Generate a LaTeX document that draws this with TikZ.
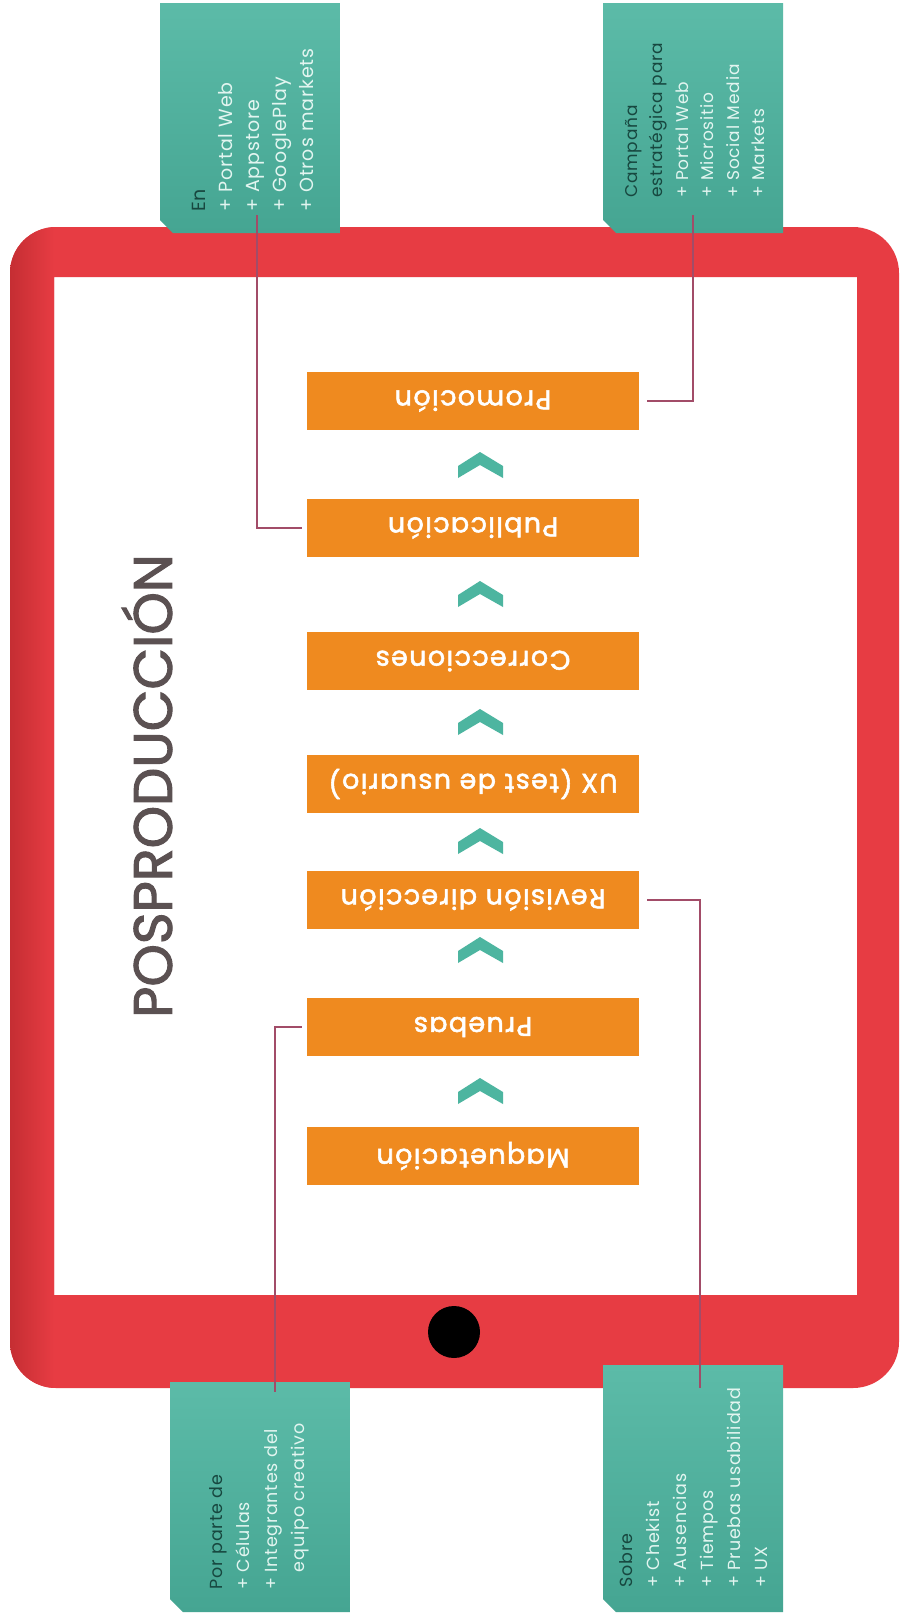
\documentclass[tikz,border=0pt]{standalone}
\usepackage{fontspec}
\setmainfont{Poppins}
\newfontfamily\stepfam[FakeBold=2,LetterSpace=5]{Poppins}
\newfontfamily\titlefam[FakeBold=2]{Poppins}
\newfontfamily\notefam[LetterSpace=5]{Poppins}
\definecolor{framered}{HTML}{E73C43}
\definecolor{framedark}{HTML}{C52E33}
\definecolor{tealbox}{HTML}{5CBBA8}
\definecolor{tealshade}{HTML}{45A592}
\definecolor{tealdark}{HTML}{17473F}
\definecolor{teallight}{HTML}{E2F5F0}
\definecolor{chev}{HTML}{4DB5A0}
\definecolor{orng}{HTML}{EF8A1F}
\definecolor{conncol}{HTML}{A24C68}
\definecolor{titlecol}{HTML}{5B5152}
\begin{document}
\begin{tikzpicture}[x=1pt,y=1pt,
  stepbox/.style={fill=orng, minimum width=332pt, minimum height=58pt, inner sep=0pt,
    text=white, font=\stepfam\fontsize{27}{30}\selectfont},
  notebox/.style={top color=tealbox, bottom color=tealshade},
  notebot/.style={top color=tealbox, bottom color=tealshade},
  notetext/.style={rotate=90, anchor=north west, inner sep=0pt, align=left,
    text=teallight, font=\notefam\fontsize{18}{27}\selectfont},
  chevron/.style={fill=chev},
  conn/.style={draw=conncol, line width=1.5pt}]
\useasboundingbox (0,0) rectangle (901,-1620);
\fill[white] (0,0) rectangle (901,-1620);
% tablet frame
\fill[framered, even odd rule, rounded corners=46pt] (10,-227) rectangle (899,-1388)
  [sharp corners] (54,-277) rectangle (857,-1295);
\begin{scope}
  \clip[rounded corners=46pt] (10,-227) rectangle (899,-1388);
  \shade[left color=framedark, right color=framered] (10,-227) rectangle (54,-1388);
\end{scope}
\fill[black] (454,-1332) circle (26);
% title
\node[rotate=90, text=titlecol, font=\titlefam\fontsize{54}{60}\selectfont] (title) at (147,-786) {POSPRODUCCIÓN};
% steps
\node[stepbox] (promo) at (473,-401) {\rotatebox{180}{Promoción}};
\node[stepbox] (publ) at (473,-528) {\rotatebox{180}{Publicación}};
\node[stepbox] (corr) at (473,-661) {\rotatebox{180}{Correcciones}};
\node[stepbox] (ux) at (473,-784) {\rotatebox{180}{UX (test de usuario)}};
\node[stepbox] (revi) at (473,-900) {\rotatebox{180}{Revisión dirección}};
\node[stepbox] (prue) at (473,-1027) {\rotatebox{180}{Pruebas}};
\node[stepbox] (maqu) at (473,-1156) {\rotatebox{180}{Maquetación}};
% chevrons
\foreach \cy in {465,594,722,841,950,1091}{
  \fill[chevron] (458,-\cy-1) -- (480,-\cy+13) -- (503,-\cy-1) -- (503,-\cy-13) -- (480,-\cy) -- (458,-\cy-13) -- cycle;
}
% note boxes
\shade[notebox] (160,-3) -- (340,-3) -- (340,-233) -- (173,-233) -- (160,-220) -- cycle;
\shade[notebox] (603,-3) -- (783,-3) -- (783,-233) -- (616,-233) -- (603,-220) -- cycle;
\shade[notebot] (170,-1382) -- (350,-1382) -- (350,-1612) -- (183,-1612) -- (170,-1599) -- cycle;
\shade[notebot] (603,-1365) -- (783,-1365) -- (783,-1612) -- (616,-1612) -- (603,-1599) -- cycle;
\node[notetext, font=\notefam\fontsize{19}{27}\selectfont] (ntl) at (192,-212) {{\color{tealdark}En}\\+ Portal Web\\+ Appstore\\+ GooglePlay\\+ Otros markets};
\node[notetext, font=\notefam\fontsize{17}{25.5}\selectfont] (ntr) at (625,-198) {{\color{tealdark}Campaña}\\{\color{tealdark}estratégica para}\\+ Portal Web\\+ Micrositio\\+ Social Media\\+ Markets};
\node[notetext, font=\notefam\fontsize{17.5}{27.5}\selectfont] (nbl) at (209,-1590) {{\color{tealdark}Por parte de}\\+ Células\\+ Integrantes del\\\hphantom{+ }equipo creativo};
\node[notetext, font=\notefam\fontsize{17.5}{27}\selectfont] (nbr) at (619,-1588) {{\color{tealdark}Sobre}\\+ Chekist\\+ Ausencias\\+ Tiempos\\+ Pruebas usabilidad\\+ UX};
% connector ends
\coordinate (ctl) at (257,-215);
\coordinate (ctr) at (693,-215);
\coordinate (cbl) at (275,-1392);
\coordinate (cbr) at (700,-1388);
\draw[conn] ([xshift=-5pt]publ.west) -| (ctl);
\draw[conn] ([xshift=8pt]promo.east) -| (ctr);
\draw[conn] ([xshift=-5pt]prue.west) -| (cbl);
\draw[conn] ([xshift=8pt]revi.east) -| (cbr);
\end{tikzpicture}
\end{document}
